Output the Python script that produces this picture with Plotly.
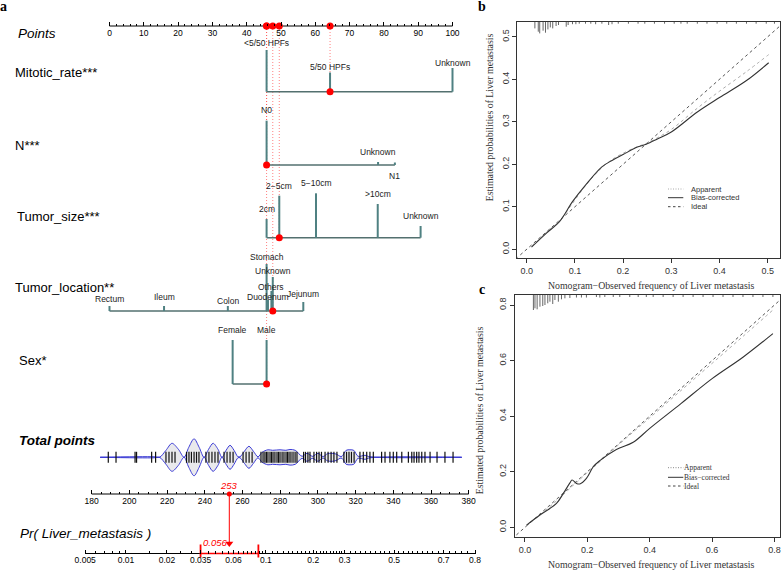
import numpy as np
import plotly.graph_objects as go

W, H = 784, 572

# ===================== DATA =====================
points_ticks = list(range(0, 101, 10))

mitotic_cats = ['<5/50 HPFs', '5/50 HPFs', 'Unknown']
mitotic_pts = [45.8, 64.3, 100.0]
n_cats = ['N0', 'Unknown', 'N1']
n_pts = [45.8, 78.3, 83.2]
size_cats = ['2cm', '2−5cm', '5−10cm', '>10cm', 'Unknown']
size_pts = [45.8, 49.5, 60.2, 78.2, 90.7]
loc_cats = ['Rectum', 'Ileum', 'Colon', 'Stomach', 'Duodenum', 'Others', 'Unknown', 'Jejunum']
loc_pts = [0.0, 15.9, 34.5, 45.8, 46.2, 47.2, 47.6, 56.5]
sex_cats = ['Female', 'Male']
sex_pts = [35.9, 45.8]

var_names = ['Mitotic_rate***', 'N***', 'Tumor_size***', 'Tumor_location**', 'Sex*']
observed = ['5/50 HPFs', 'N0', '2−5cm', 'Unknown', 'Male']

total_ticks = list(range(180, 381, 20))
pr_ticks = [0.005, 0.01, 0.02, 0.035, 0.06, 0.1, 0.2, 0.3, 0.5, 0.7, 0.8]
pr_tick_text = ['0.005', '0.01', '0.02', '0.035', '0.06', '0.1', '0.2', '0.3', '0.5', '0.7', '0.8']
pr_intercept = -10.996
pr_slope = 0.0323
pr_ci = [0.035, 0.089]

# observed total points (rug) and density of total points
tp_rug = [188.8, 192.9, 203.0, 203.8, 211.8, 213.9,
          219.4, 221.0, 222.6, 224.2,
          230.3, 231.6, 232.9, 234.3, 235.6, 236.9,
          240.6, 242.2, 243.8, 245.4, 247.0,
          250.2, 251.8, 253.4, 255.0,
          260.3, 261.9, 263.5, 265.1,
          269.8, 270.9, 271.9, 272.7, 273.5, 274.6, 275.4, 276.2, 277.2, 278.3, 279.1,
          279.9, 281.0, 282.0, 283.1, 283.9, 284.7, 285.7, 286.8, 287.9, 288.9,
          292.4, 293.4, 294.7, 295.8,
          297.9, 299.3, 300.6, 301.9, 303.8, 305.4, 307.0, 308.5, 310.1,
          313.8, 315.2, 316.5, 317.8, 319.2,
          322.3, 324.1, 325.9, 327.6, 329.4, 333.8, 335.6, 338.2, 340.0, 341.8, 344.5,
          348.0, 349.8, 351.0, 352.4, 353.6, 355.1, 356.8, 359.5, 363.2, 367.4, 371.7]
tp_dens_x = [184.5, 213.0, 216.0, 219.4, 222.6, 226.0, 229.0, 231.5, 234.3, 237.0, 239.6,
             242.0, 244.4, 247.0, 249.1, 251.3, 253.4, 255.5, 257.6, 258.7, 261.0, 263.4,
             265.8, 268.2, 270.4, 273.5, 276.0, 279.9, 283.0, 285.2, 288.0, 291.6, 294.2,
             296.9, 297.4, 300.1, 302.2, 303.2, 305.0, 307.5, 310.0, 311.7, 312.8, 315.0,
             317.0, 319.0, 321.3, 325.0, 327.6, 376.3]
tp_dens_w = [0, 0.5, 0, 7, 14, 8, 0, 10, 18.5, 10, 0,
             8, 14, 8, 0, 7, 12, 7, 0.5, 0.5, 6, 11,
             6, 0.5, 5, 7.5, 7, 7.5, 7, 7.8, 7, 1, 4,
             1, 1, 4, 1, 1, 3.5, 4, 3, 1, 1, 7,
             7.5, 7, 1, 2, 0.5, 0]

# calibration panel b
b_x = [0.010, 0.041, 0.068, 0.095, 0.122, 0.156, 0.177, 0.200, 0.231, 0.248, 0.272, 0.300, 0.354, 0.400, 0.456, 0.502]
b_bias = [0.005, 0.038, 0.065, 0.112, 0.151, 0.194, 0.209, 0.223, 0.241, 0.247, 0.260, 0.276, 0.323, 0.357, 0.397, 0.439]
b_app = [0.007, 0.040, 0.067, 0.108, 0.150, 0.192, 0.211, 0.226, 0.242, 0.249, 0.263, 0.282, 0.332, 0.372, 0.418, 0.458]
b_rug_x = [0.017, 0.024, 0.027, 0.034, 0.039, 0.044, 0.049, 0.054, 0.061, 0.066, 0.082, 0.086, 0.095,
           0.102, 0.109, 0.122, 0.133, 0.143, 0.156, 0.170, 0.177, 0.190, 0.211, 0.231, 0.245, 0.265,
           0.286, 0.306, 0.320, 0.333, 0.354, 0.374, 0.395, 0.415, 0.435, 0.456, 0.476, 0.497, 0.514]
b_rug_n = [6.7, 10, 11.7, 9, 11, 7.7, 5.7, 6.7, 4.3, 3.3, 5, 3.3, 2.5,
           2.5, 2, 2, 2, 2.5, 2, 3.3, 2.5, 2, 2, 2, 2, 2,
           2, 2, 2, 2, 2, 2, 2, 2, 2, 2, 2, 2, 2]

# calibration panel c
c_x = [0.005, 0.048, 0.101, 0.123, 0.144, 0.151, 0.165, 0.176, 0.197, 0.219, 0.240, 0.293, 0.347, 0.400, 0.500, 0.600, 0.700, 0.795]
c_bias = [0.008, 0.044, 0.086, 0.122, 0.160, 0.170, 0.158, 0.156, 0.176, 0.218, 0.240, 0.280, 0.306, 0.356, 0.445, 0.535, 0.613, 0.697]
c_app = [0.004, 0.045, 0.095, 0.118, 0.140, 0.148, 0.160, 0.172, 0.194, 0.215, 0.236, 0.290, 0.343, 0.394, 0.492, 0.590, 0.688, 0.782]
c_rug_x = [0.027, 0.032, 0.039, 0.048, 0.057, 0.064, 0.073, 0.080, 0.089, 0.096, 0.107, 0.117, 0.128,
           0.144, 0.165, 0.181, 0.197, 0.229, 0.240, 0.256, 0.283, 0.304, 0.336, 0.363, 0.389, 0.411,
           0.443, 0.475, 0.507, 0.539, 0.571, 0.603, 0.635, 0.667, 0.699, 0.731, 0.763, 0.795]
c_rug_n = [15, 13.3, 14.3, 11.7, 11, 10, 8.3, 6.7, 9, 5, 6.7, 4.3, 3.3,
           3, 2.5, 2.5, 2.5, 2, 2.5, 2, 2, 2, 2, 2, 2, 2,
           2, 2, 2, 2, 2, 2, 2, 2, 2, 2, 2, 2]

cal_x_ticks_b = [0.0, 0.1, 0.2, 0.3, 0.4, 0.5]
cal_y_ticks_b = [0.0, 0.1, 0.2, 0.3, 0.4, 0.5]
cal_ticks_c = [0.0, 0.2, 0.4, 0.6, 0.8]
legend_items = ['Apparent', 'Bias-corrected', 'Ideal']
legend_items_c = ['Apparent', 'Bias−corrected', 'Ideal']

# ===================== LAYOUT CONSTANTS =====================
SANS = 'Liberation Sans, Arial, sans-serif'
SERIF = 'Liberation Serif, Times New Roman, serif'
RED = '#ff0000'
SPIKE_C = '#4f8182'
BASE_C = '#53706f'
BLUE = '#3b3bd6'
NAME_SIZE = 13

PTS_PX0, PTS_PX_PER = 109.5, 3.43
TP_REF, TP_PX_REF, TP_PX_PER = 180, 91.7, 1.885
Y_PTS_AXIS, Y_TP_AXIS, Y_PR_AXIS, Y_DENS = 26, 494, 553.5, 457.3
ROW_Y = [91.7, 165, 237.7, 311, 384]
NAME_POS = [(13, 73), (13, 145), (15, 216.7), (13, 287.3), (17, 360.7)]
SPIKE_TOP = [[50, 72.5, 68],
             [120.7, 162, 162.5],
             [219, 195.7, 193.3, 204, 226],
             [306, 306, 306, 264, 300, 291, 277, 302],
             [340, 340]]
LABEL_Y = [[43.3, 66.7, 63.3],
           [110, 152.3, 175.5],
           [209, 186, 183, 194, 216],
           [298.5, 296.7, 301, 256.5, 296.7, 286.7, 271, 293.5],
           [330, 330]]


def logit(p):
    p = np.asarray(p, dtype=float)
    return np.log(p / (1 - p))


def px(xp, yp):
    return xp / W, 1 - yp / H


x_range_pts = [(0 - PTS_PX0) / PTS_PX_PER, (W - PTS_PX0) / PTS_PX_PER]
x_range_tp = [TP_REF + (0 - TP_PX_REF) / TP_PX_PER, TP_REF + (W - TP_PX_REF) / TP_PX_PER]
x_range_lg = [pr_intercept + pr_slope * x_range_tp[0], pr_intercept + pr_slope * x_range_tp[1]]

fig = go.Figure()
ann = []
shapes = []


def seg_trace(xs, ys, color, width, xa='x', ya='y', dash=None):
    fig.add_trace(go.Scatter(x=xs, y=ys, mode='lines', xaxis=xa, yaxis=ya,
                             line=dict(color=color, width=width, dash=dash),
                             hoverinfo='skip', showlegend=False))


# ---------- Points axis line ----------
seg_trace([points_ticks[0], points_ticks[-1]], [Y_PTS_AXIS] * 2, 'black', 1)

# ---------- variables ----------
all_cats = [mitotic_cats, n_cats, size_cats, loc_cats, sex_cats]
all_pts = [mitotic_pts, n_pts, size_pts, loc_pts, sex_pts]
obs_pts = []
for i, (cats, pts) in enumerate(zip(all_cats, all_pts)):
    obs_pts.append(pts[cats.index(observed[i])])

# red dotted guides (under everything)
for i, p in enumerate(obs_pts):
    seg_trace([p, p], [Y_PTS_AXIS, ROW_Y[i]], '#ff4a4a', 0.7, dash='1px,2px')

for i, (cats, pts) in enumerate(zip(all_cats, all_pts)):
    y0 = ROW_Y[i]
    seg_trace([min(pts), max(pts)], [y0, y0], BASE_C, 1.4)
    xs, ys = [], []
    for j, p in enumerate(pts):
        xs += [p, p, None]
        ys += [y0, SPIKE_TOP[i][j], None]
        ann.append(dict(x=p, y=LABEL_Y[i][j], xref='x', yref='y', text=cats[j], showarrow=False,
                        font=dict(family=SANS, size=8.5, color='#222')))
    seg_trace(xs, ys, SPIKE_C, 2)
    nx, ny = px(*NAME_POS[i])
    ann.append(dict(x=nx, y=ny, xref='paper', yref='paper', text=var_names[i], showarrow=False,
                    xanchor='left', font=dict(family=SANS, size=NAME_SIZE, color='black')))

fig.add_trace(go.Scatter(x=obs_pts, y=ROW_Y, mode='markers', marker=dict(color=RED, size=7),
                         hoverinfo='skip', showlegend=False, cliponaxis=False))
fig.add_trace(go.Scatter(x=obs_pts, y=[Y_PTS_AXIS] * len(obs_pts), mode='markers',
                         marker=dict(color=RED, size=7), hoverinfo='skip', showlegend=False,
                         cliponaxis=False))

ax, ay = px(16, 33)
ann.append(dict(x=ax, y=ay, xref='paper', yref='paper', text='<i>Points</i>', showarrow=False,
                xanchor='left', font=dict(family=SANS, size=13.5, color='black')))

# ---------- Total points ----------
seg_trace([total_ticks[0], total_ticks[-1]], [Y_TP_AXIS] * 2, 'black', 1, xa='x2')
seg_trace([tp_dens_x[0], tp_dens_x[-1]], [Y_DENS] * 2, BLUE, 1, xa='x2')
fig.add_trace(go.Scatter(x=tp_dens_x, y=[Y_DENS + w for w in tp_dens_w], mode='lines', xaxis='x2',
                         line=dict(color=BLUE, width=1, shape='spline', smoothing=0.9),
                         hoverinfo='skip', showlegend=False))
fig.add_trace(go.Scatter(x=tp_dens_x, y=[Y_DENS - w for w in tp_dens_w], mode='lines', xaxis='x2',
                         line=dict(color=BLUE, width=1, shape='spline', smoothing=0.9),
                         fill='tonexty', fillcolor='#e9e9ec',
                         hoverinfo='skip', showlegend=False))
rx, ry = [], []
for v in tp_rug:
    rx += [v, v, None]
    ry += [Y_DENS - 5.5, Y_DENS + 5.5, None]
seg_trace(rx, ry, '#111', 1.2, xa='x2')

total = sum(obs_pts)
prob = 1 / (1 + np.exp(-(pr_intercept + pr_slope * total)))
Y_ARROW = 543.5
seg_trace([total, total], [Y_TP_AXIS, Y_ARROW], RED, 1, xa='x2')
fig.add_trace(go.Scatter(x=[total], y=[Y_TP_AXIS], xaxis='x2', mode='markers',
                         marker=dict(color=RED, size=5), hoverinfo='skip', showlegend=False))
fig.add_trace(go.Scatter(x=[total], y=[Y_ARROW], xaxis='x2', mode='markers',
                         marker=dict(color=RED, size=7, symbol='triangle-down'),
                         hoverinfo='skip', showlegend=False))
ann.append(dict(x=total, y=485, xref='x2', yref='y', text=f'<i>{total:.0f}</i>', showarrow=False,
                font=dict(family=SANS, size=9.5, color=RED)))
tx, ty = px(17, 440)
ann.append(dict(x=tx, y=ty, xref='paper', yref='paper', text='<b><i>Total points</i></b>',
                showarrow=False, xanchor='left', font=dict(family=SANS, size=13.5, color='black')))

# ---------- Pr axis ----------
lg_ticks = logit(pr_ticks)
seg_trace([lg_ticks[0], lg_ticks[-1]], [Y_PR_AXIS] * 2, 'black', 1, xa='x3')
ci_lg = logit(pr_ci)
seg_trace([ci_lg[0], ci_lg[1]], [Y_PR_AXIS] * 2, RED, 1.3, xa='x3')
for v in ci_lg:
    seg_trace([v, v], [Y_PR_AXIS - 9, Y_PR_AXIS + 4], RED, 1.8, xa='x3')
ann.append(dict(x=ci_lg[0], y=542, xref='x3', yref='y', text=f'<i>{prob:.3f}</i>', showarrow=False,
                xanchor='left', font=dict(family=SANS, size=9.5, color=RED)))
prx, pry = px(18, 533.3)
ann.append(dict(x=prx, y=pry, xref='paper', yref='paper', text='<i>Pr( Liver_metastasis )</i>',
                showarrow=False, xanchor='left', font=dict(family=SANS, size=13.5, color='black')))

pr_minor = list(np.arange(0.006, 0.0100, 0.001)) + list(np.arange(0.015, 0.1, 0.005)) + \
    list(np.arange(0.11, 0.3, 0.01)) + list(np.arange(0.32, 0.8, 0.02))
pr_minor = [p for p in pr_minor if min(abs(p - t) for t in pr_ticks) > 1e-6]


# ---------- calibration panels ----------
def cal_panel(xa, ya, xs, bias, app, rug_x, rug_n, yrange, px_per_unit):
    seg_trace([-0.2, 1.0], [-0.2, 1.0], '#444', 0.9, xa=xa, ya=ya, dash='3px,3px')
    fig.add_trace(go.Scatter(x=xs, y=app, mode='lines', xaxis=xa, yaxis=ya,
                             line=dict(color='#aaaaaa', width=1, dash='dot', shape='spline'),
                             hoverinfo='skip', showlegend=False))
    fig.add_trace(go.Scatter(x=xs, y=bias, mode='lines', xaxis=xa, yaxis=ya,
                             line=dict(color='#333333', width=1.1, shape='spline'),
                             hoverinfo='skip', showlegend=False))
    top = yrange[1]
    gx, gy = [], []
    for v, n in zip(rug_x, rug_n):
        gx += [v, v, None]
        gy += [top, top - n / px_per_unit, None]
    seg_trace(gx, gy, '#555', 0.9, xa=xa, ya=ya)


b_xr, b_yr = [-0.0195, 0.5255], [-0.0198, 0.5355]
c_xr, c_yr = [-0.032, 0.8177], [-0.036, 0.836]
cal_panel('x4', 'y4', b_x, b_bias, b_app, b_rug_x, b_rug_n, b_yr, 425.2)
cal_panel('x5', 'y5', c_x, c_bias, c_app, c_rug_x, c_rug_n, c_yr, 277.9)


# legends
def legend(labels, x0, x1, xt, ys, font_family, dashes, colors):
    for k, yv in enumerate(ys):
        _, py = px(0, yv)
        shapes.append(dict(type='line', xref='paper', yref='paper', x0=x0 / W, x1=x1 / W, y0=py, y1=py,
                           line=dict(color=colors[k], width=1, dash=dashes[k])))
        ann.append(dict(x=xt / W, y=py, xref='paper', yref='paper', text=labels[k], showarrow=False,
                        xanchor='left', font=dict(family=font_family, size=7.5, color='#333')))


legend(legend_items, 668, 683.3, 689, [189, 197.7, 206.7], SANS, ['1px,1.5px', 'solid', '2.5px,2.5px'],
       ['#aaaaaa', '#333', '#444'])
legend(legend_items_c, 668, 683.3, 682, [467.7, 477.3, 486], SERIF, ['1px,1.5px', 'solid', '2.5px,2.5px'],
       ['#888888', '#333', '#444'])

xtitle = 'Nomogram−Observed frequency of Liver metastasis'
ytitle = 'Estimated probabilities of Liver metastasis'
for (xx, yy, t, ang) in [(650.7, 285, xtitle, 0), (489.3, 117, ytitle, -90),
                         (650.7, 564.5, xtitle, 0), (479.3, 410, ytitle, -90)]:
    qx, qy = px(xx, yy)
    ann.append(dict(x=qx, y=qy, xref='paper', yref='paper', text=t, showarrow=False, textangle=ang,
                    font=dict(family=SERIF, size=9.8, color='#333')))

for (xx, yy, t) in [(4, 7, 'a'), (482, 7, 'b'), (482, 289, 'c')]:
    qx, qy = px(xx, yy)
    ann.append(dict(x=qx, y=qy, xref='paper', yref='paper', text=f'<b>{t}</b>', showarrow=False,
                    font=dict(family=SERIF, size=14, color='black')))

for a in ann:
    a.setdefault('xanchor', 'center')
    a.setdefault('yanchor', 'middle')

# ===================== AXES =====================
tickfont_a = dict(family=SANS, size=8.5, color='black')
common_a = dict(showgrid=False, zeroline=False, showline=False, ticks='inside', ticklen=4,
                tickcolor='black', tickwidth=1, tickfont=tickfont_a, anchor='free', side='bottom',
                domain=[0, 1])
pts_minor = [v for v in range(0, 101, 2) if v % 10]
tp_minor = [v for v in range(180, 381, 5) if v % 20]

cal_axis = dict(showgrid=False, zeroline=False, showline=True, linecolor='#333', linewidth=1,
                mirror=True, ticks='outside', ticklen=4, tickcolor='#333',
                tickfont=dict(family=SANS, size=9, color='#333'))

b_dom_x = [517.3 / W, 780 / W]
b_dom_y = [1 - 257.7 / H, 1 - 21.7 / H]
c_dom_x = [515 / W, 780 / W]
c_dom_y = [1 - 537.3 / H, 1 - 295 / H]

fig.update_layout(
    width=W, height=H, margin=dict(l=0, r=0, t=0, b=0),
    plot_bgcolor='white', paper_bgcolor='white', showlegend=False,
    xaxis=dict(common_a, range=x_range_pts, position=1 - Y_PTS_AXIS / H, tickvals=points_ticks,
               minor=dict(tickmode='array', tickvals=pts_minor, ticks='inside', ticklen=2.5,
                          tickcolor='black')),
    xaxis2=dict(common_a, range=x_range_tp, overlaying='x', position=1 - Y_TP_AXIS / H,
                tickvals=total_ticks,
                minor=dict(tickmode='array', tickvals=tp_minor, ticks='inside', ticklen=2.5,
                           tickcolor='black')),
    xaxis3=dict(common_a, range=x_range_lg, overlaying='x', position=1 - Y_PR_AXIS / H,
                tickvals=list(lg_ticks), ticktext=pr_tick_text,
                minor=dict(tickmode='array', tickvals=list(logit(pr_minor)), ticks='inside',
                           ticklen=2.5, tickcolor='black')),
    yaxis=dict(range=[H, 0], domain=[0, 1], visible=False, fixedrange=True),
    xaxis4=dict(cal_axis, domain=b_dom_x, range=b_xr, anchor='y4', tickvals=cal_x_ticks_b,
                tickformat='.1f'),
    yaxis4=dict(cal_axis, domain=b_dom_y, range=b_yr, anchor='x4', tickvals=cal_y_ticks_b,
                tickformat='.1f', tickangle=-90),
    xaxis5=dict(cal_axis, domain=c_dom_x, range=c_xr, anchor='y5', tickvals=cal_ticks_c,
                tickformat='.1f'),
    yaxis5=dict(cal_axis, domain=c_dom_y, range=c_yr, anchor='x5', tickvals=cal_ticks_c,
                tickformat='.1f', tickangle=-90),
    annotations=ann, shapes=shapes,
)

fig.write_html('out.html', config={'displayModeBar': False},
               post_script="document.body.style.margin='0px';document.body.style.overflow='hidden';")
